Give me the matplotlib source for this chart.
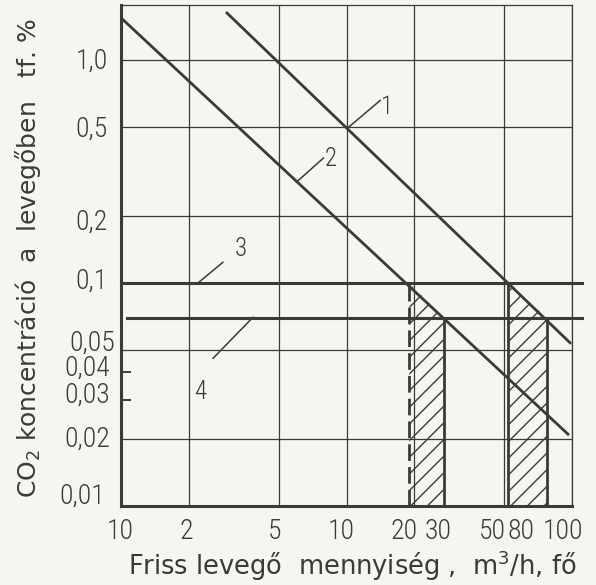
import matplotlib
matplotlib.use("Agg")
import matplotlib.pyplot as plt
from matplotlib import font_manager
from matplotlib.transforms import blended_transform_factory

# ---- font choice (narrow technical look for numbers) ----
ttf = font_manager.fontManager.ttflist
names = {f.name for f in ttf}
FAM = "DejaVu Sans"
for cand in ["Roboto Condensed", "Liberation Sans Narrow", "Open Sans Condensed", "Noto Sans Condensed"]:
    if cand in names:
        FAM = cand
        break
NARROW = FAM != "DejaVu Sans"
plt.rcParams["font.family"] = [FAM, "DejaVu Sans"]
plt.rcParams["font.weight"] = "normal"
plt.rcParams["mathtext.fontset"] = "custom"
plt.rcParams["mathtext.rm"] = "DejaVu Sans"
plt.rcParams["mathtext.it"] = "DejaVu Sans"
plt.rcParams["hatch.linewidth"] = 1.0

# ---- data ----
line1_x = [2.95, 98]
line1_y = [1.63, 0.054]
line2_x = [1.0, 96]
line2_y = [1.55, 0.021]
line3_x = [1.0, 111]
line3_y = [0.1, 0.1]
line4_x = [1.06, 111]
line4_y = [0.07, 0.07]

regionA_x = [19.0, 27.0]
regionA_top = [0.1, 0.07]
regionB_x = [52.0, 77.5]
regionB_top = [0.1, 0.07]

x_grid = [2, 5, 10, 20, 50, 100]
y_grid = [0.02, 0.05, 0.1, 0.2, 0.5, 1.0]
x_ticks = [1, 2, 5, 10, 20, 30, 50, 80, 100]
x_tick_labels = ["10", "2", "5", "10", "20", "30", "50", "80", "100"]
y_ticks = [0.01, 0.02, 0.03, 0.04, 0.05, 0.1, 0.2, 0.5, 1.0]
y_tick_labels = ["0,01", "0,02", "0,03", "0,04", "0,05", "0,1", "0,2", "0,5", "1,0"]
y_minor_marks = [0.03, 0.04]

curve_labels = ["1", "2", "3", "4"]
label_text_xy = [(15.1, 0.62), (8.5, 0.36), (3.4, 0.142), (2.24, 0.0325)]
leader_from = [(10.2, 0.5), (6.0, 0.284), (2.19, 0.1), (2.56, 0.046)]
leader_to = [(14.1, 0.66), (7.9, 0.364), (2.83, 0.124), (3.85, 0.0703)]

x_title = "Friss levegő  mennyiség ,  m$^3$/h, fő"
y_title = "CO$_2$ koncentráció  a  levegőben   tf. %"

INK = "#3a3a36"
BG = "#f6f6f1"

fig = plt.figure(figsize=(5.96, 5.85), dpi=100, facecolor=BG)
ax = fig.add_axes([121 / 596, 1 - 506 / 585, (572 - 121) / 596, (506 - 5) / 585])
ax.set_facecolor(BG)
ax.set_xscale("log")
ax.set_yscale("log")
ax.set_xlim(1, 100)
ax.set_ylim(0.01, 1.77)

# grid
for gx in x_grid:
    ax.axvline(gx, color=INK, lw=0.9, zorder=1)
for gy in y_grid:
    ax.axhline(gy, color=INK, lw=0.9, zorder=1)

# spines
for s in ["top", "right"]:
    ax.spines[s].set_linewidth(0.9)
    ax.spines[s].set_color(INK)
for s in ["left", "bottom"]:
    ax.spines[s].set_linewidth(2.2)
    ax.spines[s].set_color(INK)

ax.set_xticks([])
ax.set_yticks([])
ax.minorticks_off()

# curves
ax.plot(line1_x, line1_y, color=INK, lw=2.0, zorder=3)
ax.plot(line2_x, line2_y, color=INK, lw=2.0, zorder=3)
ax.plot(line3_x, line3_y, color=INK, lw=2.2, zorder=3, clip_on=False)
ax.plot(line4_x, line4_y, color=INK, lw=2.2, zorder=3, clip_on=False)

# hatched regions
for rx, rt, dashed_left in [(regionA_x, regionA_top, True), (regionB_x, regionB_top, False)]:
    ax.fill_between(rx, [0.01, 0.01], rt, facecolor="none", edgecolor=INK,
                    hatch="//", linewidth=0, zorder=2)
    ax.plot([rx[0], rx[0]], [0.01, rt[0]], color=INK, lw=2.0, zorder=3,
            linestyle=(0, (6, 2.2)) if dashed_left else "-")
    ax.plot([rx[1], rx[1]], [0.01, rt[1]], color=INK, lw=2.0, zorder=3)

# short inward ticks at 0.03 and 0.04
tr = blended_transform_factory(ax.transAxes, ax.transData)
for ym in y_minor_marks:
    ax.plot([0, 0.02], [ym, ym], color=INK, lw=1.4, transform=tr, clip_on=False)

XFS = 20 if NARROW else 15
YFS = 20 if NARROW else 15
CFS = 18 if NARROW else 14
NW = "light"

# x tick labels (with small hand-lettering offsets)
x_off = [-1, -3, -4, -5, -10, -16, -12, -29, -9]
for v, lab, dx in zip(x_ticks, x_tick_labels, x_off):
    ax.annotate(lab, xy=(v, 0.01), xytext=(dx, -12), textcoords="offset pixels",
                ha="center", va="top", fontsize=XFS, color=INK, fontweight=NW,
                annotation_clip=False)

# y tick labels
y_off = [10, 0, 4, 4, 7, 2, -6, -2, -1]
y_dx = [-16, -11, -11, -11, -6, -13, -13, -13, -13]
for v, lab, dy, dx in zip(y_ticks, y_tick_labels, y_off, y_dx):
    ax.annotate(lab, xy=(1, v), xytext=(dx, dy),
                textcoords="offset pixels", ha="right", va="center",
                fontsize=YFS, color=INK, fontweight=NW, annotation_clip=False)

# curve labels and leaders
for lab, txy, p0, p1 in zip(curve_labels, label_text_xy, leader_from, leader_to):
    ax.plot([p0[0], p1[0]], [p0[1], p1[1]], color=INK, lw=1.1, zorder=3)
    ax.text(txy[0], txy[1], lab, ha="center", va="center", fontsize=CFS,
            color=INK, fontweight=NW, zorder=4)

# axis titles (wider lettering)
fig.text(352 / 596, 1 - 566 / 585, x_title, ha="center", va="center",
         fontsize=18.5, color=INK, family=["DejaVu Sans"], fontweight="normal")
fig.text(28 / 596, 1 - 258 / 585, y_title, ha="center", va="center", rotation=90,
         fontsize=18, color=INK, family=["DejaVu Sans"], fontweight="normal")

fig.savefig("out.png", dpi=100, facecolor=BG)
